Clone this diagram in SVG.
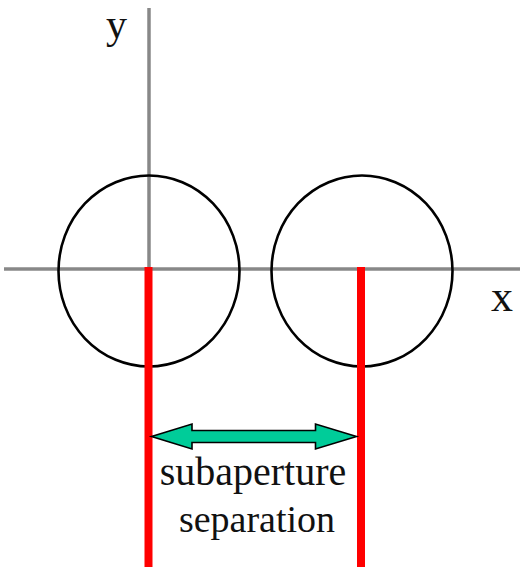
<svg xmlns="http://www.w3.org/2000/svg" width="520" height="567" viewBox="0 0 520 567">
<style>
.axis{stroke:#888;stroke-width:3.5;fill:none}
.circ{stroke:#000;stroke-width:2.6;fill:none}
.red{stroke:#ff0000;stroke-width:8;fill:none}
.lbl{font-family:"Liberation Serif","Times New Roman",serif;fill:#111}
.arrow{fill:#00cc99;stroke:#000;stroke-width:1.6;stroke-linejoin:miter}
</style>
<rect width="520" height="567" fill="#fff"/>
<g id="axes">
<line class="axis" x1="149" y1="8" x2="149" y2="269"/>
<line class="axis" x1="4" y1="269" x2="520" y2="269"/>
<text class="lbl" x="106" y="38" font-size="42">y</text>
<text class="lbl" x="491" y="311" font-size="44">x</text>
</g>
<g id="subaperture-left">
<ellipse class="circ" cx="149" cy="271" rx="90.5" ry="95.5"/>
</g>
<g id="subaperture-right">
<ellipse class="circ" cx="362" cy="271" rx="90.5" ry="95.5"/>
</g>
<g id="connectors">
<line class="red" x1="148.5" y1="267" x2="148.5" y2="567"/>
<line class="red" x1="361" y1="267" x2="361" y2="567"/>
<polygon class="arrow" points="151.5,436.5 192,424 192,430.5 315.5,430.5 315.5,424 356.5,436.5 315.5,449 315.5,442.5 192,442.5 192,449"/>
</g>
<g id="label">
<text class="lbl" x="253" y="485" font-size="40" text-anchor="middle" fill="#000">subaperture</text>
<text class="lbl" x="257" y="532" font-size="38" text-anchor="middle" fill="#000">separation</text>
</g>
</svg>
